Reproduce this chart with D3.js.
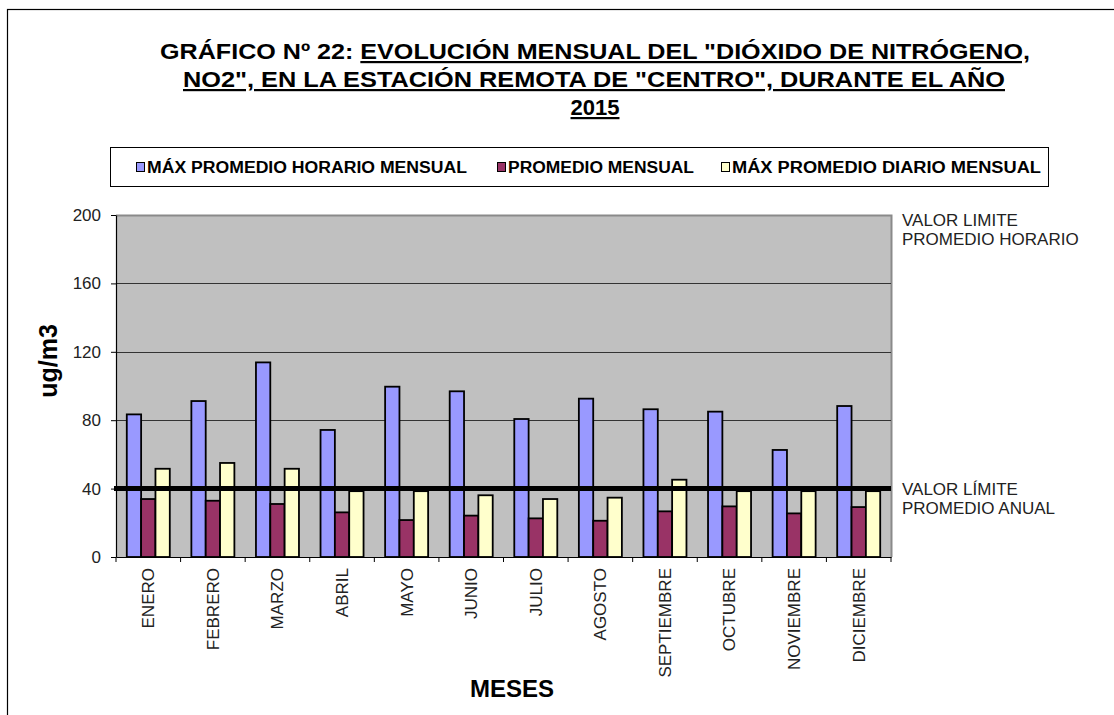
<!DOCTYPE html>
<html lang="es">
<head>
    <meta charset="UTF-8">
    <title>Gráfico Nº 22 NO2 Centro 2015</title>
    <script src="https://d3js.org/d3.v7.min.js"></script>
    <style>
        body { margin: 0; background: #fff; }
        text { font-family: Arial, "Liberation Sans", sans-serif; }
    </style>
</head>
<body>
    <div id="chart"></div>

    <script>
        // data
        const months = ["ENERO", "FEBRERO", "MARZO", "ABRIL", "MAYO", "JUNIO",
                        "JULIO", "AGOSTO", "SEPTIEMBRE", "OCTUBRE", "NOVIEMBRE", "DICIEMBRE"];
        const seriesNames = ["MÁX PROMEDIO HORARIO MENSUAL", "PROMEDIO MENSUAL", "MÁX PROMEDIO DIARIO MENSUAL"];
        const maxHorario = [83.4, 91.2, 113.8, 74.3, 99.6, 96.9, 80.7, 92.6, 86.4, 85.0, 62.6, 88.3];
        const promedio   = [33.9, 32.9, 31.0, 26.1, 21.6, 24.2, 22.6, 21.2, 26.7, 29.6, 25.5, 29.2];
        const maxDiario  = [51.6, 55.0, 51.6, 38.5, 38.5, 36.1, 33.9, 34.7, 45.2, 38.5, 38.5, 38.5];
        const yTicks = [0, 40, 80, 120, 160, 200];
        const limiteAnual = 40;
        const limiteHorario = 200;

        const colors = ["#9999FF", "#993366", "#FFFFCC"];
        const series = [maxHorario, promedio, maxDiario];

        const width = 1114, height = 715;
        const plot = { left: 116, right: 891, top: 215, bottom: 557 };

        const svg = d3.select("#chart").append("svg")
            .attr("width", width)
            .attr("height", height);

        // outer frame (runs off the right/bottom edge like the source)
        svg.append("rect")
            .attr("x", 7.5).attr("y", 9.5)
            .attr("width", 1120).attr("height", 720)
            .attr("fill", "none").attr("stroke", "#000").attr("stroke-width", 1.2);

        // title
        const title = svg.append("g").attr("font-weight", "bold").attr("font-size", 22).attr("fill", "#000");
        const t1 = title.append("text").attr("x", 160).attr("y", 59)
            .attr("textLength", 870).attr("lengthAdjust", "spacingAndGlyphs");
        t1.append("tspan").text("GRÁFICO Nº 22: ");
        t1.append("tspan").attr("text-decoration", "underline")
            .text("EVOLUCIÓN  MENSUAL DEL \"DIÓXIDO DE NITRÓGENO,");
        title.append("text").attr("x", 183).attr("y", 87)
            .attr("textLength", 822).attr("lengthAdjust", "spacingAndGlyphs")
            .attr("text-decoration", "underline")
            .text("NO2\", EN LA ESTACIÓN REMOTA DE \"CENTRO\", DURANTE  EL AÑO");
        title.append("text").attr("x", 595).attr("y", 115)
            .attr("text-anchor", "middle")
            .attr("text-decoration", "underline")
            .text("2015");

        // legend
        const legend = svg.append("g");
        legend.append("rect")
            .attr("x", 110.5).attr("y", 147.5).attr("width", 938).attr("height", 39)
            .attr("fill", "#fff").attr("stroke", "#000").attr("stroke-width", 1);
        const legendX = [136, 497, 721];
        const legendW = [320, 186, 309];
        seriesNames.forEach((name, i) => {
            legend.append("rect")
                .attr("x", legendX[i] + 0.5).attr("y", 162.5).attr("width", 8).attr("height", 9)
                .attr("fill", colors[i]).attr("stroke", "#000").attr("stroke-width", 1);
            legend.append("text")
                .attr("x", legendX[i] + 11).attr("y", 173)
                .attr("font-size", 16).attr("font-weight", "bold")
                .attr("textLength", legendW[i]).attr("lengthAdjust", "spacingAndGlyphs")
                .text(name);
        });

        // scales
        const x = d3.scaleBand().domain(months).range([plot.left, plot.right]).paddingInner(0).paddingOuter(0);
        const groupPad = 0.167;
        const x1 = d3.scaleBand().domain(d3.range(3))
            .range([x.bandwidth() * groupPad, x.bandwidth() * (1 - groupPad)]);
        const y = d3.scaleLinear().domain([0, 200]).range([plot.bottom, plot.top]);

        // plot background
        svg.append("rect")
            .attr("x", plot.left).attr("y", plot.top)
            .attr("width", plot.right - plot.left).attr("height", plot.bottom - plot.top)
            .attr("fill", "#C0C0C0");
        // top/right grey frame
        svg.append("path")
            .attr("d", `M${plot.left},${plot.top + 0.5}H${plot.right + 0.5}V${plot.bottom}`)
            .attr("fill", "none").attr("stroke", "#8a8a8a").attr("stroke-width", 2);

        // gridlines
        svg.append("g").selectAll("line")
            .data(yTicks.filter(v => v > 0 && v < 200))
            .join("line")
            .attr("x1", plot.left).attr("x2", plot.right)
            .attr("y1", d => Math.round(y(d)) + 0.5).attr("y2", d => Math.round(y(d)) + 0.5)
            .attr("stroke", "#333").attr("stroke-width", 1);

        // bars
        const groups = svg.append("g").selectAll("g")
            .data(months)
            .join("g")
            .attr("transform", d => `translate(${x(d)},0)`);
        groups.selectAll("rect")
            .data((m, mi) => series.map((s, si) => ({ si, v: s[mi] })))
            .join("rect")
            .attr("x", d => x1(d.si))
            .attr("y", d => y(d.v))
            .attr("width", x1.bandwidth())
            .attr("height", d => y(0) - y(d.v))
            .attr("fill", d => colors[d.si])
            .attr("stroke", "#000").attr("stroke-width", 1.8);

        // annual limit line
        svg.append("line")
            .attr("x1", plot.left - 2).attr("x2", plot.right)
            .attr("y1", y(limiteAnual)).attr("y2", y(limiteAnual))
            .attr("stroke", "#000").attr("stroke-width", 5);

        // y axis
        const yAxis = svg.append("g")
            .attr("transform", `translate(${plot.left},0)`)
            .call(d3.axisLeft(y).tickValues(yTicks).tickSize(5).tickPadding(10).tickSizeOuter(0));
        yAxis.select(".domain").attr("stroke", "#000").attr("stroke-width", 1.2);
        yAxis.selectAll(".tick text").attr("font-size", 17).attr("fill", "#222")
            .attr("font-family", "Arial, 'Liberation Sans', sans-serif");

        // x axis
        const xAxis = svg.append("g")
            .attr("transform", `translate(0,${plot.bottom})`)
            .call(d3.axisBottom(x).tickSize(0).tickSizeOuter(0));
        xAxis.select(".domain").attr("stroke", "#000").attr("stroke-width", 1.2);
        xAxis.selectAll(".tick text")
            .attr("font-size", 17).attr("fill", "#222")
            .attr("font-family", "Arial, 'Liberation Sans', sans-serif")
            .attr("text-anchor", "end")
            .attr("dy", "0.35em")
            .attr("transform", "translate(0,11) rotate(-90)")
            .attr("x", 0).attr("y", 0);
        // ticks between categories
        xAxis.append("g").selectAll("line")
            .data(d3.range(months.length + 1))
            .join("line")
            .attr("x1", i => plot.left + i * x.step()).attr("x2", i => plot.left + i * x.step())
            .attr("y1", 0).attr("y2", 5)
            .attr("stroke", "#000").attr("stroke-width", 1);

        // axis titles
        svg.append("text")
            .attr("transform", `translate(57,361) rotate(-90)`)
            .attr("text-anchor", "middle")
            .attr("font-size", 25).attr("font-weight", "bold")
            .text("ug/m3");
        svg.append("text")
            .attr("x", 512).attr("y", 697)
            .attr("text-anchor", "middle")
            .attr("font-size", 24).attr("font-weight", "bold")
            .text("MESES");

        // limit annotations
        const notes = [
            { v: limiteHorario, lines: ["VALOR LIMITE", "PROMEDIO HORARIO"], dy: 11 },
            { v: limiteAnual, lines: ["VALOR LÍMITE", "PROMEDIO ANUAL"], dy: 6 }
        ];
        notes.forEach(n => {
            n.lines.forEach((l, i) => {
                svg.append("text")
                    .attr("x", 902)
                    .attr("y", y(n.v) + n.dy + i * 19)
                    .attr("font-size", 17).attr("fill", "#222")
                    .text(l);
            });
        });
    </script>
</body>
</html>
